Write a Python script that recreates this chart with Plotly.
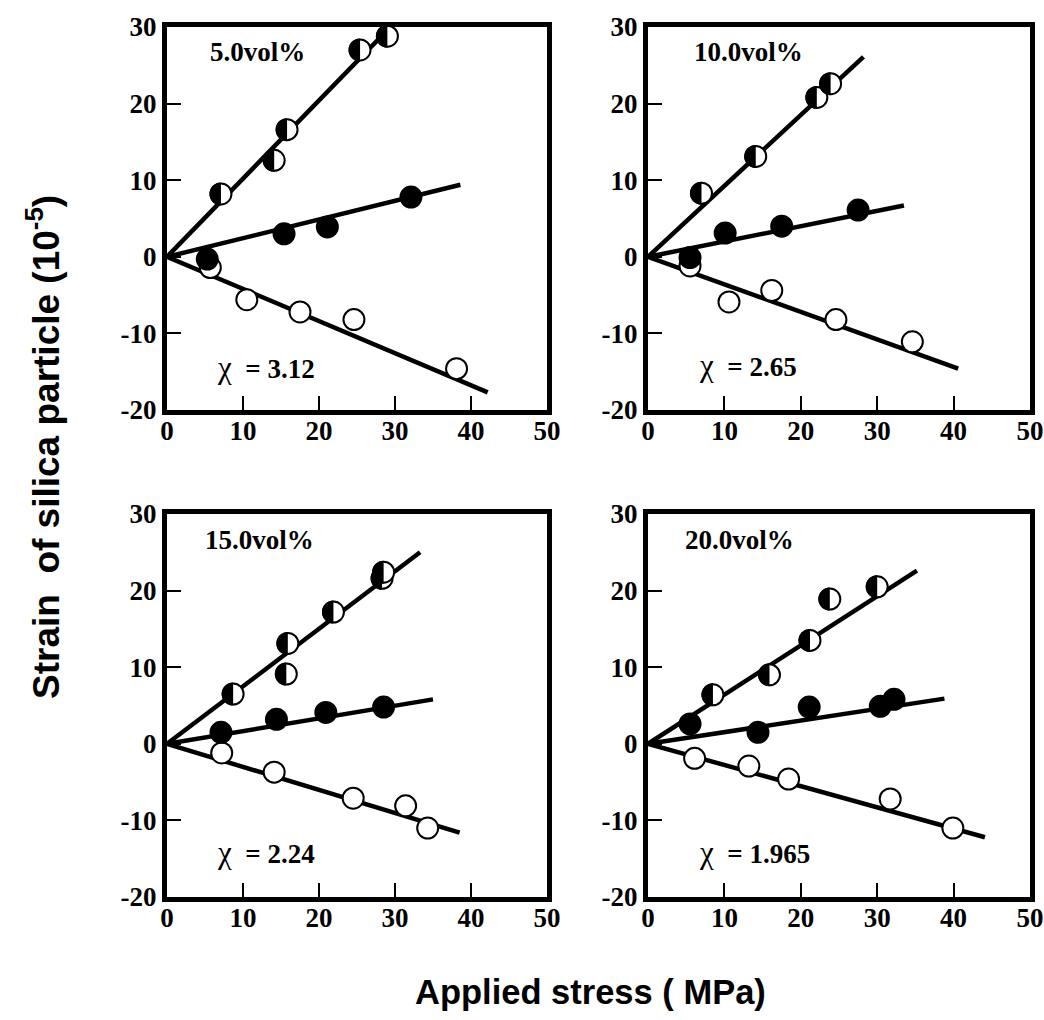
import plotly.graph_objects as go

# ---------------- data ----------------
panel_labels = ["5.0vol%", "10.0vol%", "15.0vol%", "20.0vol%"]
chi_labels = ["3.12", "2.65", "2.24", "1.965"]

x_ticks = [0, 10, 20, 30, 40, 50]
y_ticks = [-20, -10, 0, 10, 20, 30]

# Panel 1: 5.0 vol%
p1_half_x = [7.1, 14.1, 15.8, 25.4, 29.0]
p1_half_y = [8.2, 12.6, 16.6, 27.0, 28.8]
p1_fill_x = [5.3, 15.4, 21.1, 32.1]
p1_fill_y = [-0.3, 3.0, 3.9, 7.8]
p1_open_x = [5.7, 10.5, 17.5, 24.6, 38.1]
p1_open_y = [-1.4, -5.6, -7.2, -8.2, -14.6]
p1_line_end_x = [29.4, 38.6, 42.2]
p1_line_end_y = [30.0, 9.4, -17.7]

# Panel 2: 10.0 vol%
p2_half_x = [7.0, 14.1, 22.1, 23.9]
p2_half_y = [8.3, 13.1, 20.8, 22.6]
p2_fill_x = [5.5, 10.1, 17.5, 27.5]
p2_fill_y = [-0.1, 3.1, 4.0, 6.1]
p2_open_x = [5.5, 10.6, 16.2, 24.6, 34.6]
p2_open_y = [-1.2, -5.9, -4.4, -8.2, -11.1]
p2_line_end_x = [28.2, 33.5, 40.6]
p2_line_end_y = [26.1, 6.7, -14.6]

# Panel 3: 15.0 vol%
p3_half_x = [8.7, 15.9, 15.7, 21.9, 28.3, 28.5]
p3_half_y = [6.5, 13.1, 9.1, 17.2, 21.6, 22.4]
p3_fill_x = [7.1, 14.4, 20.9, 28.5]
p3_fill_y = [1.5, 3.2, 4.1, 4.8]
p3_open_x = [7.2, 14.1, 24.5, 31.4, 34.3]
p3_open_y = [-1.2, -3.7, -7.1, -8.1, -11.0]
p3_line_end_x = [33.3, 35.0, 38.5]
p3_line_end_y = [25.0, 5.8, -11.6]

# Panel 4: 20.0 vol%
p4_half_x = [8.5, 15.9, 21.2, 23.8, 30.0]
p4_half_y = [6.4, 9.0, 13.5, 18.9, 20.5]
p4_fill_x = [5.5, 14.4, 21.1, 30.4, 32.2]
p4_fill_y = [2.6, 1.5, 4.8, 4.9, 5.8]
p4_open_x = [6.1, 13.2, 18.4, 31.7, 39.9]
p4_open_y = [-1.9, -2.9, -4.6, -7.2, -11.0]
p4_line_end_x = [35.2, 38.8, 44.1]
p4_line_end_y = [22.6, 5.9, -12.2]

panels = [
    (p1_half_x, p1_half_y, p1_fill_x, p1_fill_y, p1_open_x, p1_open_y, p1_line_end_x, p1_line_end_y),
    (p2_half_x, p2_half_y, p2_fill_x, p2_fill_y, p2_open_x, p2_open_y, p2_line_end_x, p2_line_end_y),
    (p3_half_x, p3_half_y, p3_fill_x, p3_fill_y, p3_open_x, p3_open_y, p3_line_end_x, p3_line_end_y),
    (p4_half_x, p4_half_y, p4_fill_x, p4_fill_y, p4_open_x, p4_open_y, p4_line_end_x, p4_line_end_y),
]

# ---------------- layout geometry ----------------
W, H = 1044, 1020


def px(p):
    return p / W


def py(p):
    return 1 - p / H


x_doms = [[px(167), px(547)], [px(648), px(1030)]]
y_doms = [[py(410), py(27)], [py(897), py(514)]]
panel_pos = [(0, 0), (1, 0), (0, 1), (1, 1)]  # (col, row)

label_pos = [(0.108, 0.935), (0.115, 0.935), (0.095, 0.932), (0.092, 0.932)]
chi_pos = [(0.126, 0.112), (0.128, 0.117), (0.126, 0.117), (0.128, 0.117)]

SERIF = "Liberation Serif"
SANS = "Liberation Sans"
MSIZE = 21
R_HALF = 11.5
k = 0.5523 * R_HALF
half_path = (f"M 0,{R_HALF} C {-k},{R_HALF} {-R_HALF},{k} {-R_HALF},0 "
             f"C {-R_HALF},{-k} {-k},{-R_HALF} 0,{-R_HALF} Z")

fig = go.Figure()
shapes = []
annotations = []

for i, (hx, hy, fx, fy, ox, oy, lex, ley) in enumerate(panels):
    n = i + 1
    xr = "x" if n == 1 else f"x{n}"
    yr = "y" if n == 1 else f"y{n}"
    # fitted lines from origin
    for ex, ey in zip(lex, ley):
        fig.add_trace(go.Scatter(x=[0, ex], y=[0, ey], mode="lines",
                                 line=dict(color="black", width=4.5),
                                 xaxis=xr, yaxis=yr, showlegend=False,
                                 hoverinfo="skip"))
    # open circles
    fig.add_trace(go.Scatter(x=ox, y=oy, mode="markers",
                             marker=dict(symbol="circle", size=MSIZE, color="white",
                                         line=dict(color="black", width=2)),
                             xaxis=xr, yaxis=yr, showlegend=False, cliponaxis=False))
    # filled circles
    fig.add_trace(go.Scatter(x=fx, y=fy, mode="markers",
                             marker=dict(symbol="circle", size=MSIZE, color="black",
                                         line=dict(color="black", width=2)),
                             xaxis=xr, yaxis=yr, showlegend=False, cliponaxis=False))
    # half-filled circles: white circle + black left half (shape)
    fig.add_trace(go.Scatter(x=hx, y=hy, mode="markers",
                             marker=dict(symbol="circle", size=MSIZE, color="white",
                                         line=dict(color="black", width=2)),
                             xaxis=xr, yaxis=yr, showlegend=False, cliponaxis=False))
    for hxv, hyv in zip(hx, hy):
        shapes.append(dict(type="path", xref=xr, yref=yr,
                           xsizemode="pixel", ysizemode="pixel",
                           xanchor=hxv, yanchor=hyv, path=half_path,
                           fillcolor="black", line=dict(width=0), layer="above"))
    # panel labels
    lx, ly = label_pos[i]
    annotations.append(dict(text=f"<b>{panel_labels[i]}</b>", x=lx, y=ly,
                            xref=f"{xr} domain", yref=f"{yr} domain",
                            xanchor="left", yanchor="middle", showarrow=False,
                            font=dict(family=SERIF, size=27, color="black")))
    cx, cy = chi_pos[i]
    annotations.append(dict(text=f"<span style='font-size:31px'>χ</span>  <b>= {chi_labels[i]}</b>",
                            x=cx, y=cy,
                            xref=f"{xr} domain", yref=f"{yr} domain",
                            xanchor="left", yanchor="middle", showarrow=False,
                            font=dict(family=SERIF, size=27, color="black")))

axis_common = dict(showgrid=False, zeroline=False, showline=True, linewidth=5,
                   linecolor="black", mirror=True, ticks="inside", ticklen=14,
                   tickwidth=2, tickcolor="black", automargin=False,
                   tickfont=dict(family=SERIF, size=27, color="black"))

layout_axes = {}
for i, (c, r) in enumerate(panel_pos):
    n = i + 1
    xk = "xaxis" if n == 1 else f"xaxis{n}"
    yk = "yaxis" if n == 1 else f"yaxis{n}"
    xa = "x" if n == 1 else f"x{n}"
    ya = "y" if n == 1 else f"y{n}"
    layout_axes[xk] = dict(axis_common, domain=x_doms[c], anchor=ya, range=[0, 50],
                           tickvals=x_ticks, ticktext=[f"<b>{t}</b>" for t in x_ticks],
                           ticklabelstandoff=-7)
    layout_axes[yk] = dict(axis_common, domain=y_doms[r], anchor=xa, range=[-20, 30],
                           tickvals=y_ticks, ticktext=[f"<b>{t}</b>" for t in y_ticks])

annotations.append(dict(text="<b>Strain  of silica particle (10<sup>-5</sup>)</b>",
                        x=px(43), y=py(447), xref="paper", yref="paper",
                        textangle=-90, showarrow=False, xanchor="center", yanchor="middle",
                        font=dict(family=SANS, size=37, color="black")))
annotations.append(dict(text="<b>Applied stress ( MPa)</b>",
                        x=px(590), y=py(992), xref="paper", yref="paper",
                        showarrow=False, xanchor="center", yanchor="middle",
                        font=dict(family=SANS, size=34.5, color="black")))

fig.update_layout(width=W, height=H, margin=dict(l=0, r=0, t=0, b=0, autoexpand=False),
                  paper_bgcolor="white", plot_bgcolor="white",
                  shapes=shapes, annotations=annotations, showlegend=False,
                  **layout_axes)

fig.write_html("out.html", config={"displayModeBar": False},
               post_script="document.body.style.margin='0';document.body.style.overflow='hidden';")
